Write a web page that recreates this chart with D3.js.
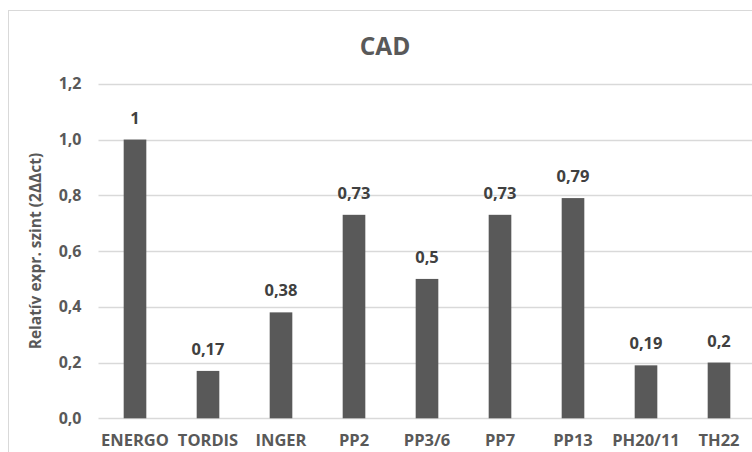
<!DOCTYPE html>
<html>
<head>
<meta charset="utf-8">
<script src="https://cdn.jsdelivr.net/npm/d3@7"></script>
<style>
  body { margin: 0; background: #fff; }
  svg { display: block; font-family: "Open Sans", sans-serif; }
</style>
</head>
<body>
<div id="chart"></div>
<script>
// Relative expression bars (CAD)

const categories = ["ENERGO", "TORDIS", "INGER", "PP2", "PP3/6", "PP7", "PP13", "PH20/11", "TH22"];
const values = [1, 0.17, 0.38, 0.73, 0.5, 0.73, 0.79, 0.19, 0.2];
const valueLabels = ["1", "0,17", "0,38", "0,73", "0,5", "0,73", "0,79", "0,19", "0,2"];
const yTicks = [0, 0.2, 0.4, 0.6, 0.8, 1.0, 1.2];

const width = 752, height = 452;
const marginLeft = 98.5, plotRight = 755.5, plotTop = 83.8, plotBottom = 418.3;

const textColor = "#595959";
const barColor = "#595959";
const gridColor = "#d9d9d9";

const x = d3.scaleBand()
    .domain(categories)
    .range([marginLeft, plotRight])
    .paddingInner(0.69)
    .paddingOuter(0.345);

const y = d3.scaleLinear()
    .domain([0, 1.2])
    .range([plotBottom, plotTop]);

const svg = d3.select("#chart")
  .append("svg")
    .attr("width", width)
    .attr("height", height)
    .attr("viewBox", [0, 0, width, height]);

// chart area border (cut off on right/bottom like the source)
svg.append("rect")
    .attr("x", 8.5)
    .attr("y", 10.5)
    .attr("width", 800)
    .attr("height", 500)
    .attr("fill", "#fff")
    .attr("stroke", gridColor);

// title
svg.append("text")
    .attr("x", 385)
    .attr("y", 55)
    .attr("text-anchor", "middle")
    .attr("font-size", "24.5px")
    .attr("font-weight", "bold")
    .attr("fill", textColor)
    .text("CAD");

// grid
svg.append("g")
  .selectAll("line")
  .data(yTicks)
  .join("line")
    .attr("x1", marginLeft)
    .attr("x2", plotRight)
    .attr("y1", d => Math.round(y(d)) + 0.5)
    .attr("y2", d => Math.round(y(d)) + 0.5)
    .attr("stroke", gridColor)
    .attr("stroke-width", 1.3);

// y axis labels
svg.append("g")
    .attr("transform", `translate(${marginLeft - 17},0)`)
    .call(d3.axisLeft(y).tickValues(yTicks).tickSize(0).tickPadding(0)
      .tickFormat(d => d3.format(".1f")(d).replace(".", ",")))
    .call(g => g.select(".domain").remove())
    .call(g => g.selectAll("text")
      .attr("font-family", "'Open Sans', sans-serif")
      .attr("font-size", "16px")
      .attr("font-weight", "bold")
      .attr("fill", textColor));

// y axis title
svg.append("text")
    .attr("transform", `translate(41,${(plotTop + plotBottom) / 2}) rotate(-90)`)
    .attr("text-anchor", "middle")
    .attr("font-size", "15.5px")
    .attr("font-weight", "bold")
    .attr("fill", textColor)
    .text("Relatív expr. szint (2ΔΔct)");

// bars
svg.append("g")
  .selectAll("rect")
  .data(values)
  .join("rect")
    .attr("x", (d, i) => x(categories[i]))
    .attr("y", d => y(d))
    .attr("width", x.bandwidth())
    .attr("height", d => y(0) - y(d))
    .attr("fill", barColor);

// data labels
svg.append("g")
  .selectAll("text")
  .data(values)
  .join("text")
    .attr("x", (d, i) => x(categories[i]) + x.bandwidth() / 2)
    .attr("y", d => y(d) - 16)
    .attr("text-anchor", "middle")
    .attr("font-size", "16.5px")
    .attr("font-weight", "bold")
    .attr("fill", "#404040")
    .text((d, i) => valueLabels[i]);

// x axis labels
svg.append("g")
    .attr("transform", `translate(0,${plotBottom + 28})`)
    .call(d3.axisBottom(x).tickSize(0).tickPadding(0))
    .call(g => g.select(".domain").remove())
    .call(g => g.selectAll("text")
      .attr("dy", "0em")
      .attr("font-family", "'Open Sans', sans-serif")
      .attr("font-size", "16.5px")
      .attr("font-weight", "bold")
      .attr("fill", textColor));
</script>
</body>
</html>
